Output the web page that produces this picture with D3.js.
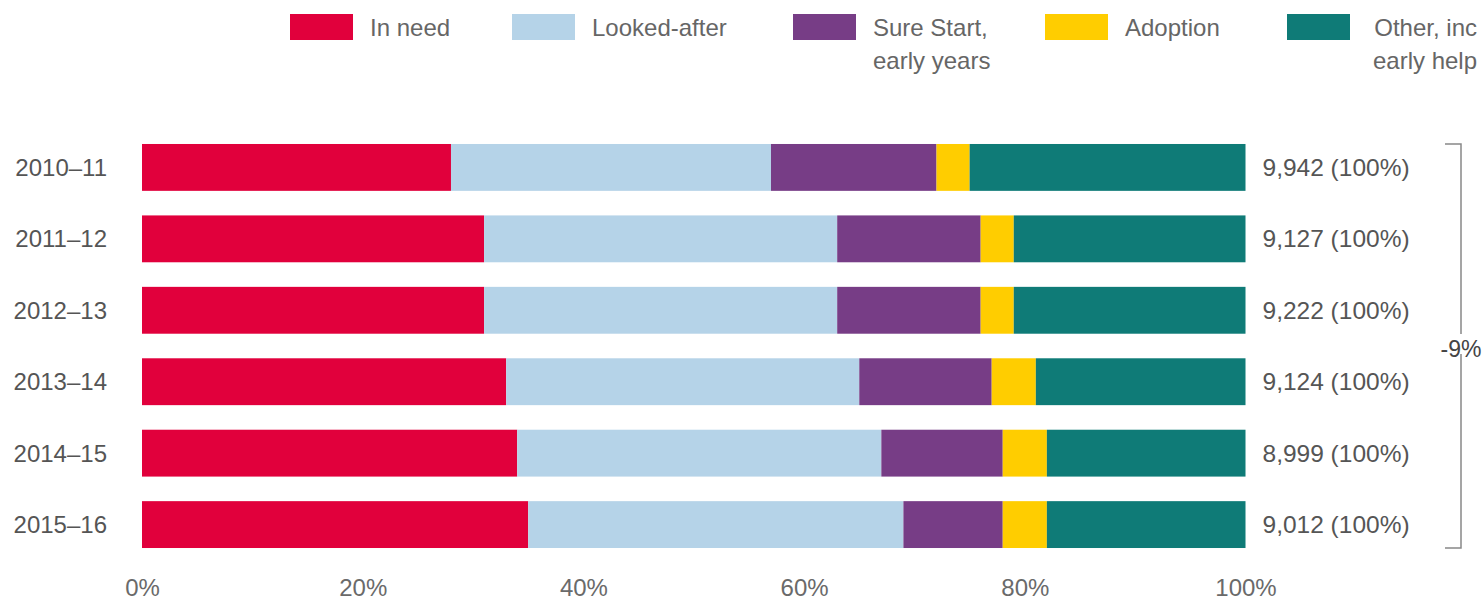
<!DOCTYPE html>
<html>
<head>
<meta charset="utf-8">
<script src="https://cdn.jsdelivr.net/npm/d3@7"></script>
<style>
  html, body { margin: 0; padding: 0; background: #fff; }
  svg { display: block; font-family: "Liberation Sans", Arial, sans-serif; }
</style>
</head>
<body>
<svg id="chart" width="1483" height="610"></svg>
<script>
// ---- data ----
const years = ["2010–11", "2011–12", "2012–13", "2013–14", "2014–15", "2015–16"];
const seriesNames = ["In need", "Looked-after", "Sure Start, early years", "Adoption", "Other, inc early help"];
const legendLines = [["In need"], ["Looked-after"], ["Sure Start,", "early years"], ["Adoption"], ["Other, inc", "early help"]];
const inNeed      = [28, 31, 31, 33, 34, 35];
const lookedAfter = [29, 32, 32, 32, 33, 34];
const sureStart   = [15, 13, 13, 12, 11, 9];
const adoption    = [3, 3, 3, 4, 4, 4];
const other       = [25, 21, 21, 19, 18, 18];
const totals      = ["9,942", "9,127", "9,222", "9,124", "8,999", "9,012"];
const changeLabel = "-9%";
const tickValues  = [0, 20, 40, 60, 80, 100];
const colors = ["#e1003c", "#b5d3e8", "#773d86", "#ffcd00", "#0f7b77"];

// ---- build table ----
const seriesArrays = [inNeed, lookedAfter, sureStart, adoption, other];
const table = years.map((y, i) => {
  const row = { year: y };
  seriesNames.forEach((s, j) => row[s] = seriesArrays[j][i]);
  return row;
});
const stacked = d3.stack().keys(seriesNames)(table);

const svg = d3.select("#chart");

const x = d3.scaleLinear().domain([0, 100]).range([142, 1245.5]);
const y = d3.scaleBand().domain(years).range([131.7, 560.3]).paddingInner(0.344).paddingOuter(0.172);
const color = d3.scaleOrdinal().domain(seriesNames).range(colors);

// bars
svg.append("g").selectAll("g")
  .data(stacked).join("g")
  .attr("fill", d => color(d.key))
  .selectAll("rect")
  .data(d => d).join("rect")
  .attr("x", d => x(d[0]))
  .attr("width", d => x(d[1]) - x(d[0]))
  .attr("y", d => y(d.data.year))
  .attr("height", y.bandwidth());

// year labels
svg.append("g").selectAll("text")
  .data(years).join("text")
  .attr("x", x(0) - 35)
  .attr("y", d => y(d) + y.bandwidth() / 2)
  .attr("dy", "0.35em")
  .attr("text-anchor", "end")
  .attr("fill", "#555")
  .attr("font-size", 24)
  .text(d => d);

// totals
svg.append("g").selectAll("text")
  .data(totals).join("text")
  .attr("x", x(100) + 17)
  .attr("y", (d, i) => y(years[i]) + y.bandwidth() / 2)
  .attr("dy", "0.35em")
  .attr("fill", "#555")
  .attr("font-size", 24.5)
  .text(d => d + " (100%)");

// x axis
const axis = d3.axisBottom(x).tickValues(tickValues).tickFormat(d => d + "%").tickSize(0).tickPadding(0);
const ax = svg.append("g").attr("transform", "translate(0,588)").call(axis);
ax.select(".domain").remove();
ax.selectAll("text")
  .attr("dy", "0.35em")
  .attr("fill", "#6a6a6a")
  .attr("font-size", 24)
  .attr("font-family", "Liberation Sans, Arial, sans-serif");

// bracket
const bx = 1461, bTop = y(years[0]), bBot = y(years[years.length - 1]) + y.bandwidth();
const bMid = (bTop + bBot) / 2;
const br = svg.append("g").attr("stroke", "#888").attr("stroke-width", 1.5).attr("fill", "none");
br.append("path").attr("d", `M${bx - 16},${bTop} H${bx} V${bMid - 12}`);
br.append("path").attr("d", `M${bx},${bMid + 8} V${bBot} H${bx - 16}`);
svg.append("text")
  .attr("x", bx)
  .attr("y", bMid + 3)
  .attr("dy", "0.35em")
  .attr("text-anchor", "middle")
  .attr("fill", "#444")
  .attr("font-size", 23)
  .text(changeLabel);

// legend
const legendX = [290, 512, 793, 1045, 1287];
const lg = svg.append("g").selectAll("g")
  .data(seriesNames).join("g")
  .attr("transform", (d, i) => `translate(${legendX[i]},0)`);
lg.append("rect")
  .attr("x", 0).attr("y", 14)
  .attr("width", 63).attr("height", 26)
  .attr("fill", d => color(d));
lg.each(function(d, i) {
  const g = d3.select(this);
  const lines = legendLines[i];
  const last = i === seriesNames.length - 1;
  const t = g.append("text")
    .attr("fill", "#666")
    .attr("font-size", 24)
    .attr("text-anchor", last ? "end" : "start");
  lines.forEach((ln, k) => {
    t.append("tspan")
      .attr("x", last ? 1477 - legendX[i] : 80)
      .attr("y", 36 + k * 33)
      .text(ln);
  });
});
</script>
</body>
</html>
